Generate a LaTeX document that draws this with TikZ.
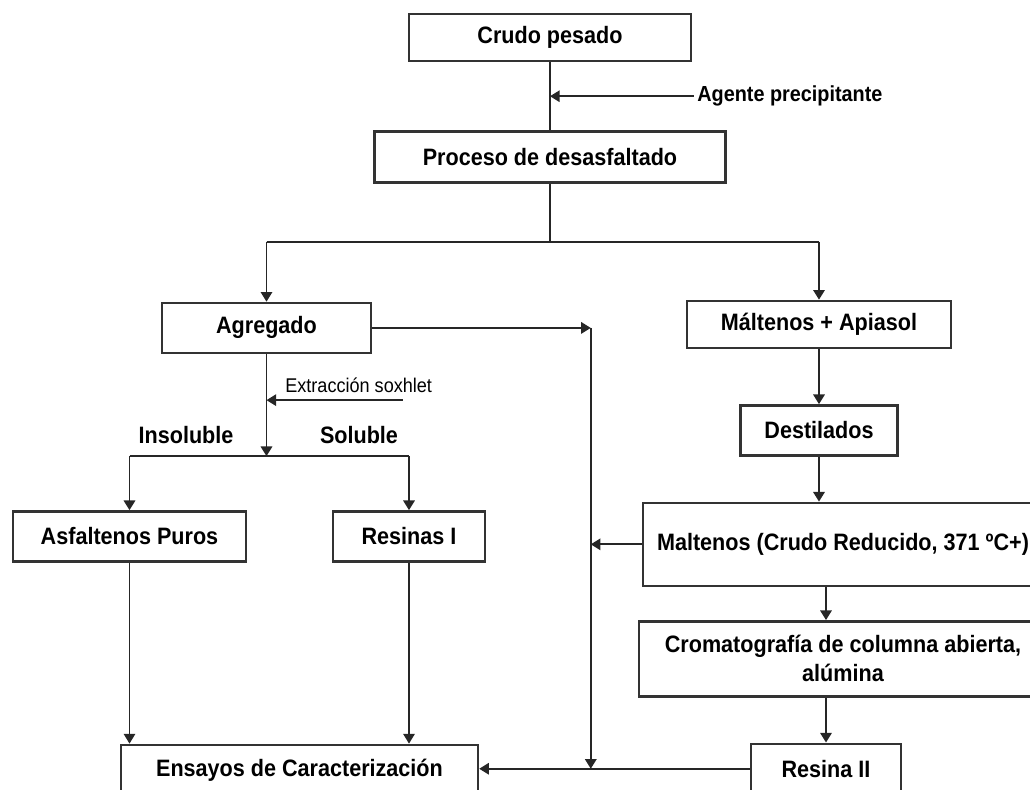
\documentclass[tikz,border=0pt]{standalone}
\usepackage{fontspec}
\setmainfont{Liberation Sans}[FakeStretch=0.91]
\usetikzlibrary{positioning, arrows.meta, calc}

\begin{document}
\begin{tikzpicture}[
        procbox/.style={rectangle, draw=black!80, line width=1.4pt, fill=white, align=center, inner sep=2pt, font=\fontsize{13.5}{16.5}\selectfont\bfseries},
        lbl/.style={inner sep=2pt, font=\fontsize{12.4}{15}\selectfont\bfseries},
        branchlbl/.style={inner sep=2pt, font=\fontsize{13.5}{16}\selectfont\bfseries},
        smalllbl/.style={inner sep=2pt, font=\fontsize{11.3}{13}\selectfont},
        ln/.style={line width=1.1pt, black!85},
        arr/.style={-{Triangle[length=5.5pt, width=6.5pt]}, line width=1.1pt, black!85},
        arrthin/.style={-{Triangle[length=5.5pt, width=6.5pt]}, line width=0.8pt, black!85},
    ]
        \useasboundingbox (0,0) rectangle (20.6,-15.8);
        \clip (0,0) rectangle (20.6,-15.8);

        % Main column
        \node[procbox, minimum width=5.64cm, minimum height=0.94cm] (crudo) at (11.0,-0.75) {Crudo pesado};
        \node[procbox, minimum width=7.02cm, minimum height=1.02cm, below=1.36cm of crudo] (proceso) {Proceso de desasfaltado};
        \coordinate (jn) at ($(crudo.south)!0.5!(proceso.north)$);
        \node[lbl, right=2.87cm of jn] (agente) {Agente precipitante};
        \coordinate[below=1.16cm of proceso] (split);

        % Left branch
        \node[procbox, minimum width=4.18cm, minimum height=1.0cm, below=2.36cm of proceso, xshift=-5.67cm] (agregado) {Agregado};
        \coordinate[below=0.92cm of agregado] (jx);
        \node[smalllbl, above right=0.08cm and 0.3cm of jx] (soxhlet) {Extracción soxhlet};
        \coordinate[below=2.04cm of agregado] (jsplit);
        \node[branchlbl] (insol) at ($(jsplit)+(-1.61,0.42)$) {Insoluble};
        \node[branchlbl] (sol) at ($(jsplit)+(1.85,0.42)$) {Soluble};
        \node[procbox, minimum width=4.66cm, minimum height=1.0cm, below=3.12cm of agregado, xshift=-2.74cm] (asf) {Asfaltenos Puros};
        \node[procbox, minimum width=3.04cm, minimum height=1.0cm, below=3.12cm of agregado, xshift=2.85cm] (resinas1) {Resinas I};
        \node[procbox, minimum width=7.14cm, minimum height=1.0cm, below=3.62cm of asf, xshift=3.4cm] (ensayos) {Ensayos de Caracterización};

        % Right branch
        \node[procbox, minimum width=5.28cm, minimum height=0.94cm, below=2.32cm of proceso, xshift=5.38cm] (maltapi) {Máltenos + Apiasol};
        \node[procbox, minimum width=3.14cm, minimum height=1.0cm, below=1.1cm of maltapi] (destilados) {Destilados};
        \node[procbox, minimum width=8.0cm, minimum height=1.66cm, below=0.9cm of destilados, xshift=0.48cm] (maltenos) {Maltenos (Crudo Reducido, 371 ºC+)};
        \node[procbox, minimum width=8.16cm, minimum height=1.5cm, below=0.66cm of maltenos] (crom) {Cromatografía de columna abierta,\\alúmina};
        \node[procbox, minimum width=3.0cm, minimum height=1.0cm, below=0.9cm of crom, xshift=-0.34cm] (resina2) {Resina II};
        \coordinate (col) at ($(maltenos.west)+(-1.02,0)$);

        % Arrows
        \draw[ln] (crudo) -- (proceso);
        \draw[arr] (agente.west) -- (jn);
        \draw[ln] (proceso) -- (split);
        \draw[ln] (agregado.north |- split) -- (maltapi.north |- split);
        \draw[arr] (agregado.north |- split) -- (agregado);
        \draw[arr] (maltapi.north |- split) -- (maltapi);

        \draw[arr] (agregado) -- (jsplit);
        \draw[arr] (jx) ++(2.72,0) -- (jx);
        \draw[ln] (asf.north |- jsplit) -- (resinas1.north |- jsplit);
        \draw[arr] (asf.north |- jsplit) -- (asf);
        \draw[arr] (resinas1.north |- jsplit) -- (resinas1);
        \draw[arrthin] (asf) -- (asf.south |- ensayos.north);
        \draw[arrthin] (resinas1) -- (resinas1.south |- ensayos.north);

        \draw[arr] (maltapi) -- (destilados);
        \draw[arr] (destilados) -- (destilados.south |- maltenos.north);
        \draw[arr] (resina2.north |- maltenos.south) -- (resina2.north |- crom.north);
        \draw[arr] (resina2.north |- crom.south) -- (resina2);

        % Collector line to the tests
        \draw[arr] (agregado.east) -- (agregado.east -| col);
        \draw[arr] (agregado.east -| col) -- (resina2.west -| col);
        \draw[arr] (maltenos.west) -- (col);
        \draw[arr] (resina2.west) -- (resina2.west -| ensayos.east);
    \end{tikzpicture}
\end{document}
